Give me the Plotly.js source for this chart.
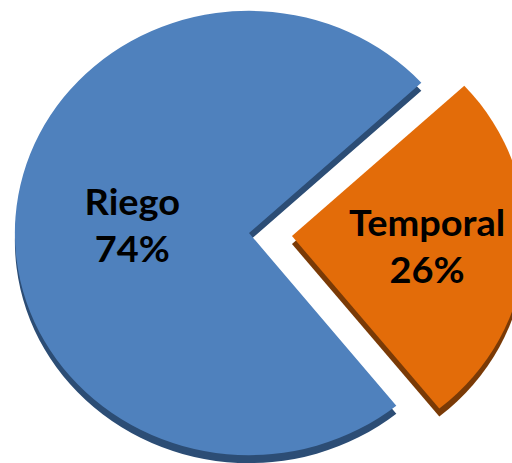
<!DOCTYPE html>
<html>
<head>
<meta charset="utf-8">
<script src="https://cdn.plot.ly/plotly-3.0.1.min.js"></script>
<style>
html,body{margin:0;padding:0;width:512px;height:463px;overflow:hidden;background:#fff;}
#chart{position:absolute;left:-31px;top:-30px;width:560px;height:534px;transform-origin:280px 263px;transform:scaleX(1.054);}
</style>
</head>
<body>
<div id="chart"></div>
<script>
var labels = ['Riego', 'Temporal'];
var values = [74, 26];
var topColors = ['#4F81BD', '#E36C09'];
var sideColors = ['#2C4D75', '#7A3A06'];
var pulls = [0, 0.184];

var depth = 8, H = 534;
var common = {
  type: 'pie', labels: labels, values: values, sort: false,
  direction: 'counterclockwise', rotation: 141, pull: pulls,
  hoverinfo: 'skip', showlegend: false
};
var sideTrace = Object.assign({}, common, {
  marker: {colors: sideColors, line: {width: 0}},
  textinfo: 'none',
  domain: {x: [0, 1], y: [0, 1 - depth / H]}
});
var topTrace = Object.assign({}, common, {
  marker: {colors: topColors, line: {width: 0}},
  texttemplate: '%{label}<br>%{percent}',
  textposition: 'inside',
  insidetextorientation: 'horizontal',
  insidetextfont: {family: 'Lato, sans-serif', size: 36, color: '#000', weight: 'bold'},
  domain: {x: [0, 1], y: [depth / H, 1]}
});
Plotly.newPlot('chart', [sideTrace, topTrace], {
  width: 560, height: 534,
  margin: {l: 0, r: 0, t: 0, b: 0},
  paper_bgcolor: '#fff', plot_bgcolor: '#fff'
}, {displayModeBar: false, staticPlot: true});
</script>
</body>
</html>
